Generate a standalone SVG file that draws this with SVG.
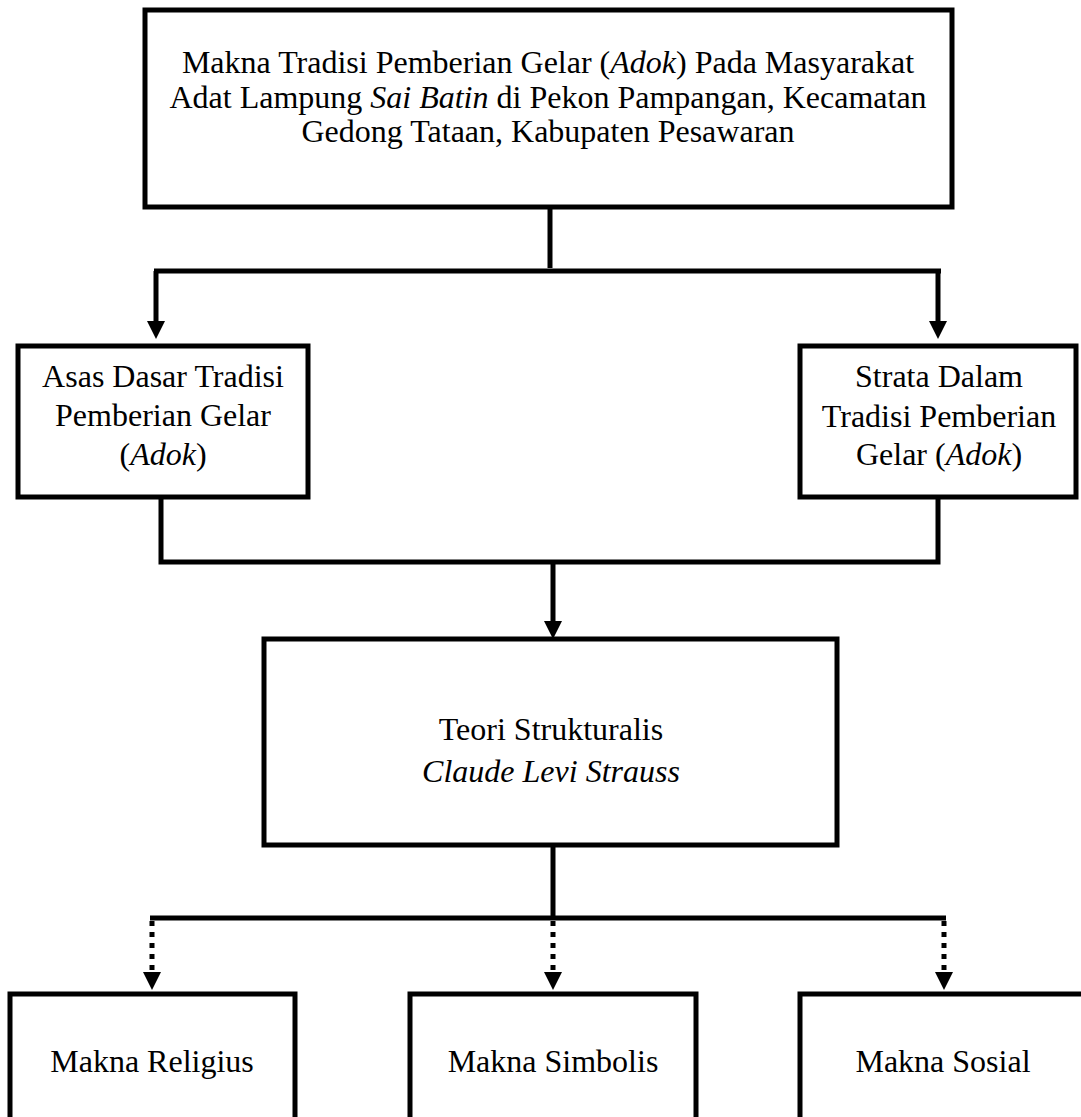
<svg xmlns="http://www.w3.org/2000/svg" width="1081" height="1117" viewBox="0 0 1081 1117">
  <style>
    .box { fill: #ffffff; stroke: #000000; stroke-width: 5; }
    .t { font-family: "Liberation Serif", "DejaVu Serif", serif; font-size: 32px; fill: #000000; text-anchor: middle; }
    .i { font-family: "Liberation Serif", serif; font-style: italic; }
    .c { fill: none; stroke: #000000; stroke-width: 5; }
    .d { fill: none; stroke: #000000; stroke-width: 5; stroke-dasharray: 5 6; }
  </style>
  <defs>
    <marker id="ah" markerUnits="userSpaceOnUse" viewBox="0 0 18 18" refX="0" refY="9" markerWidth="18" markerHeight="18" orient="auto">
      <path d="M0,0 L18,9 L0,18 Z" fill="#000000"/>
    </marker>
  </defs>
  <rect width="1081" height="1117" fill="#ffffff"/>

  <g id="connectors">
    <path class="c" d="M550,207 V268"/>
    <path class="c" d="M154,271 H941"/>
    <path class="c" d="M156,271 V321" marker-end="url(#ah)"/>
    <path class="c" d="M938,271 V321" marker-end="url(#ah)"/>
    <path class="c" d="M161,497 V562 H938 V497"/>
    <path class="c" d="M553,564 V621" marker-end="url(#ah)"/>
    <path class="c" d="M553,845 V918"/>
    <path class="c" d="M150,918 H946"/>
    <path class="d" d="M152,921 V972" marker-end="url(#ah)"/>
    <path class="d" d="M553,921 V972" marker-end="url(#ah)"/>
    <path class="d" d="M944,921 V972" marker-end="url(#ah)"/>
  </g>

  <g id="node-main">
    <rect class="box" x="145" y="10" width="807" height="197"/>
    <text class="t" x="548" y="73">Makna Tradisi Pemberian Gelar (<tspan class="i">Adok</tspan>) Pada Masyarakat</text>
    <text class="t" x="548" y="108">Adat Lampung <tspan class="i">Sai Batin</tspan> di Pekon Pampangan, Kecamatan</text>
    <text class="t" x="548" y="142">Gedong Tataan, Kabupaten Pesawaran</text>
  </g>

  <g id="node-asas">
    <rect class="box" x="18" y="346" width="290" height="151"/>
    <text class="t" x="163" y="387">Asas Dasar Tradisi</text>
    <text class="t" x="163" y="426">Pemberian Gelar</text>
    <text class="t" x="163" y="465">(<tspan class="i">Adok</tspan>)</text>
  </g>

  <g id="node-strata">
    <rect class="box" x="800" y="346" width="276" height="151"/>
    <text class="t" x="939" y="387">Strata Dalam</text>
    <text class="t" x="939" y="427">Tradisi Pemberian</text>
    <text class="t" x="939" y="465">Gelar (<tspan class="i">Adok</tspan>)</text>
  </g>

  <g id="node-teori">
    <rect class="box" x="264" y="639" width="573" height="206"/>
    <text class="t" x="551" y="740">Teori Strukturalis</text>
    <text class="t i" x="551" y="782">Claude Levi Strauss</text>
  </g>

  <g id="node-religius">
    <rect class="box" x="10" y="994" width="285" height="140"/>
    <text class="t" x="152" y="1072">Makna Religius</text>
  </g>

  <g id="node-simbolis">
    <rect class="box" x="410" y="994" width="286" height="140"/>
    <text class="t" x="553" y="1072">Makna Simbolis</text>
  </g>

  <g id="node-sosial">
    <rect class="box" x="800" y="994" width="286" height="140"/>
    <text class="t" x="943" y="1072">Makna Sosial</text>
  </g>
</svg>
